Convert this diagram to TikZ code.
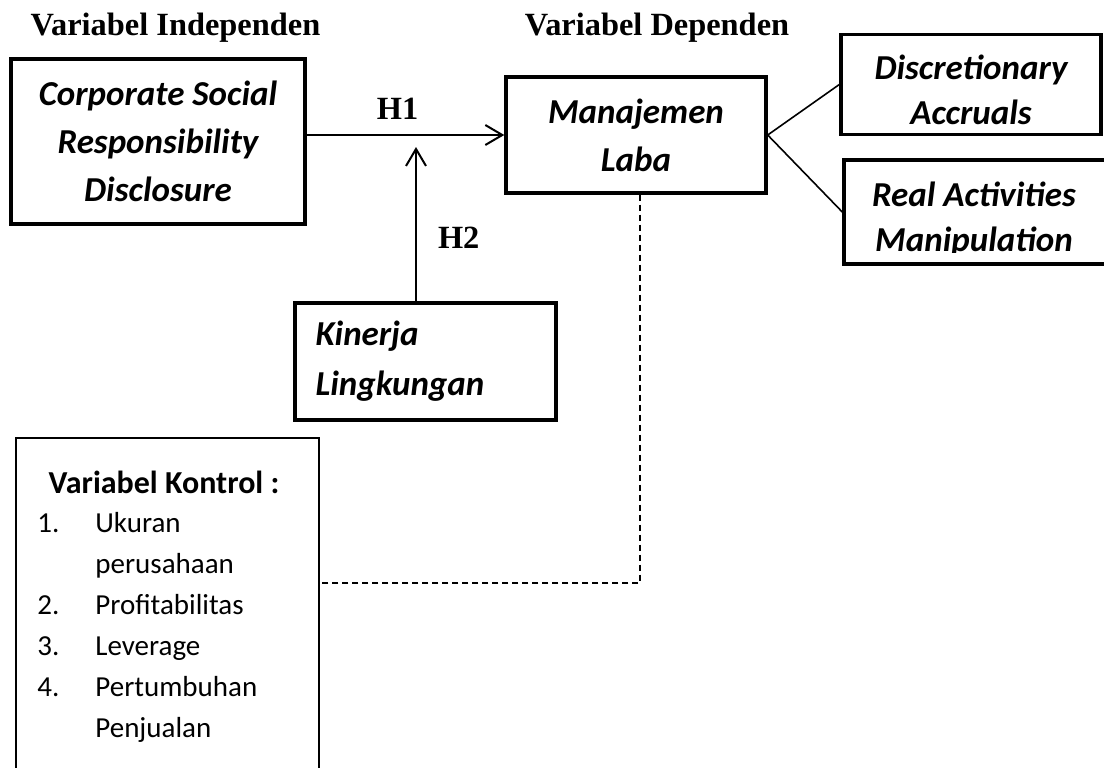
\documentclass[tikz,border=0pt]{standalone}
\usepackage{fontspec}
\setmainfont{Carlito}
\newfontfamily\timesfont{Liberation Serif}
\usetikzlibrary{positioning,arrows.meta}

\begin{document}
\begin{tikzpicture}[
  x=.5pt, y=-.5pt, >={Straight Barb[length=8.5pt,width=10pt]},
  var/.style={draw, line width=1.7pt, align=center, inner sep=0pt,
    font=\fontsize{17.5}{24}\selectfont\bfseries\itshape},
  vtext/.style={align=center, inner sep=0pt, font=\fontsize{17.5}{22.5}\selectfont\bfseries\itshape},
  head/.style={inner sep=0pt, font=\timesfont\fontsize{16.2}{19}\selectfont\bfseries},
  arr/.style={->, line width=1pt},
  link/.style={line width=.8pt},
  ctrlline/.style={dash pattern=on 3pt off 2pt, line width=.75pt},
  ctrlbox/.style={draw, line width=1pt, inner sep=0pt}
]
\useasboundingbox (0,0) rectangle (1104,767);
\clip (0,0) rectangle (1104,767);
\node[head] (hind) at (175.5,28) {Variabel Independen};
\node[head] (hdep) at (657,28) {Variabel Dependen};
\node[var, minimum width=147pt, minimum height=82.5pt] (csr) at (158,141.5)
  {Corporate Social\\Responsibility\\Disclosure};
\node[var, minimum width=130pt, minimum height=58pt] (mgmt) at (636,135) {Manajemen\\Laba};
\node[var, minimum width=130pt, minimum height=50pt] (disc) at (971,84.5) {};
\node[vtext] (disctxt) at (971,89.5) {Discretionary\\Accruals};
\node[var, minimum width=133pt, minimum height=52pt] (real) at (977,212) {};
\begin{scope}
  \clip (real.north west) rectangle (1110,252);
  \node[vtext] (realtxt) at (974,219.5) {Real Activities\\Manipulation};
\end{scope}
\node[var, minimum width=130.5pt, minimum height=58.5pt, align=left, text width=110pt,
  font=\fontsize{17.5}{25}\selectfont\bfseries\itshape]
  (kin) at (425.5,361.5) {Kinerja\\Lingkungan};
\node[ctrlbox, minimum width=151.5pt, minimum height=181pt] (ctrl) at (167.5,619) {};
\node[inner sep=0pt, font=\fontsize{16}{20.5}\selectfont\bfseries] (ctrlhead) at (164,482)
  {Variabel Kontrol :};
\node[anchor=north west, inner sep=0pt, font=\fontsize{14.5}{20.5}\selectfont] (ctrllist) at (37,503)
  {\begin{tabular}{@{}p{29pt}@{}l@{}}
   1. & Ukuran\\
      & perusahaan\\
   2. & Profitabilitas\\
   3. & Leverage\\
   4. & Pertumbuhan\\
      & Penjualan
   \end{tabular}};
\coordinate (mod) at (416,147);
\coordinate (bend) at (640,583);
\draw[arr] (csr.east |- mgmt.west) -- node[head, above=7.5pt, pos=.46] (h1) {H1} (mgmt.west);
\draw[arr] (kin.north -| mod) -- node[head, right=10.5pt, pos=.41] (h2) {H2} (mod);
\foreach \v in {disc,real}{\draw[link] (mgmt.east) -- (\v.west);}
\draw[ctrlline] (mgmt.south -| bend) -- (bend) -- (bend -| ctrl.east);
\end{tikzpicture}
\end{document}
